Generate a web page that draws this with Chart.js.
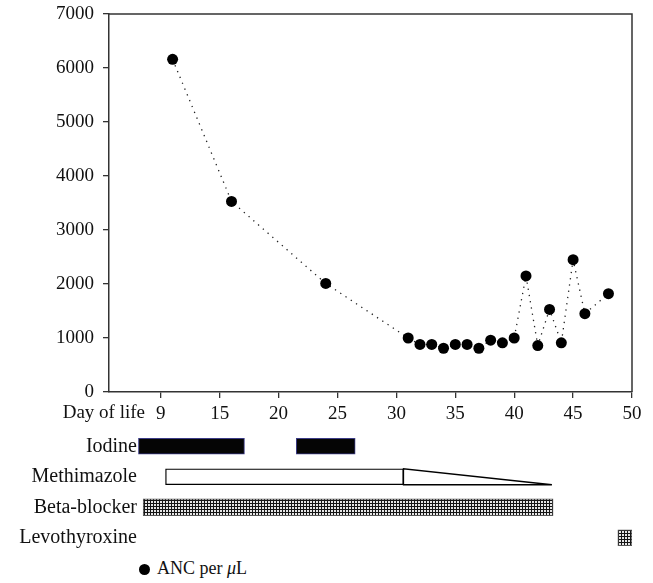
<!DOCTYPE html>
<html>
<head>
<meta charset="utf-8">
<script src="https://cdn.jsdelivr.net/npm/chart.js@4"></script>
<style>
    body { margin: 0; background: #fff; }
    #wrap { position: relative; width: 653px; height: 583px; }
    #top { position: absolute; left: 0; top: 0; }
    #bottom { position: absolute; left: 0; top: 431px; }
    #legend { position: absolute; left: 139px; top: 557px; font: 18px "Liberation Serif", serif; color: #111; line-height: 22px; }
    #legend .dot { display: inline-block; width: 11px; height: 11px; border-radius: 50%; background: #000; margin-right: 7px; vertical-align: -1px; }
</style>
</head>
<body>
<div id="wrap">
    <canvas id="top" width="653" height="430"></canvas>
    <canvas id="bottom" width="653" height="122"></canvas>
    <div id="legend"></div>
</div>
<script>
// ANC per microlitre by day of life
const days = [11, 16, 24, 31, 32, 33, 34, 35, 36, 37, 38, 39, 40, 41, 42, 43, 44, 45, 46, 48];
const anc = [6160, 3530, 2010, 1000, 880, 880, 810, 880, 880, 810, 960, 910, 1000, 2150, 860, 1530, 910, 2450, 1450, 1820];

const xMin = 5.6;
const xMax = 50;
const xTickValues = [10, 15, 20, 25, 30, 35, 40, 45, 50];
const xTickLabels = ["9", "15", "20", "25", "30", "35", "40", "45", "50"];
const yMax = 7000;
const yStep = 1000;

// treatment courses, in days of life
const treatments = ["Iodine", "Methimazole", "Beta-blocker", "Levothyroxine"];
const iodineCourses = [[8.1, 17.1], [21.5, 26.5]];
const methimazoleFull = [10.4, 30.6];
const methimazoleTaper = [30.6, 43.2];
const betaBlocker = [8.5, 43.3];
const levothyroxine = [48.8, 50.0];

const FONT = {family: "'Liberation Serif', serif", size: 19};
const LABEL_FONT = "20px 'Liberation Serif', serif";
const INK = "#111";

function l(element) {
    return document.getElementById(element);
}

function meshPattern() {
    let c = document.createElement("canvas");
    c.width = 3;
    c.height = 3;
    let g = c.getContext("2d");
    g.fillStyle = "#e6e6e6";
    g.fillRect(0, 0, 3, 3);
    g.fillStyle = "#151515";
    g.fillRect(0, 0, 3, 1);
    g.fillRect(0, 0, 1, 3);
    return l("bottom").getContext("2d").createPattern(c, "repeat");
}

const framePlugin = {
    id: "frame",
    afterDraw(chart) {
        let ctx = chart.ctx;
        let a = chart.chartArea;
        ctx.save();
        ctx.strokeStyle = "#333";
        ctx.lineWidth = 1.5;
        ctx.beginPath();
        ctx.moveTo(a.left, a.top);
        ctx.lineTo(a.right, a.top);
        ctx.lineTo(a.right, a.bottom);
        ctx.stroke();
        ctx.fillStyle = INK;
        ctx.font = FONT.size + "px " + FONT.family;
        ctx.textAlign = "right";
        ctx.textBaseline = "middle";
        ctx.fillText("Day of life", 145, a.bottom + 21);
        ctx.restore();
    }
};

new Chart(l("top"), {
    type: "line",
    data: {
        datasets: [{
            label: "ANC per \u03bcL",
            data: days.map((d, i) => ({x: d, y: anc[i]})),
            borderColor: "#222",
            borderWidth: 1.3,
            borderDash: [1.3, 5],
            pointRadius: 5.5,
            pointBackgroundColor: "#000",
            pointBorderWidth: 0,
            tension: 0
        }]
    },
    options: {
        responsive: false,
        animation: false,
        layout: {padding: {top: 14, right: 21, bottom: 0, left: 0}},
        plugins: {legend: {display: false}, tooltip: {enabled: false}},
        scales: {
            x: {
                type: "linear",
                min: xMin,
                max: xMax,
                afterBuildTicks: s => { s.ticks = xTickValues.map(v => ({value: v})); },
                afterFit: s => { s.height = 38; },
                ticks: {callback: (v, i) => xTickLabels[i], font: FONT, color: INK, padding: 5, maxRotation: 0, autoSkip: false},
                grid: {drawOnChartArea: false, tickLength: 6, color: "#333", lineWidth: 1.3},
                border: {color: "#333", width: 1.5}
            },
            y: {
                min: 0,
                max: yMax,
                afterFit: s => { s.width = 109; s.paddingTop = 0; s.paddingBottom = 0; },
                ticks: {stepSize: yStep, callback: v => String(v), font: FONT, color: INK, padding: 9},
                grid: {drawOnChartArea: false, tickLength: 6, color: "#333", lineWidth: 1.3},
                border: {color: "#333", width: 1.5}
            }
        }
    },
    plugins: [framePlugin]
});

const taperPlugin = {
    id: "taper",
    afterDatasetsDraw(chart) {
        let meta = chart.getDatasetMeta(2);
        let ctx = chart.ctx;
        ctx.save();
        ctx.strokeStyle = "#000";
        ctx.lineWidth = 1.3;
        for (let el of meta.data) {
            let x0 = Math.min(el.base, el.x);
            let x1 = Math.max(el.base, el.x);
            let top = el.y - el.height / 2;
            let bot = el.y + el.height / 2;
            ctx.beginPath();
            ctx.moveTo(x0, bot);
            ctx.lineTo(x0, top);
            ctx.lineTo(x1, bot);
            ctx.closePath();
            ctx.stroke();
        }
        // row names, right-aligned just left of the bars
        let y = chart.scales.y;
        ctx.fillStyle = INK;
        ctx.font = LABEL_FONT;
        ctx.textAlign = "right";
        ctx.textBaseline = "middle";
        treatments.forEach((name, i) => {
            ctx.fillText(name, 137, y.getPixelForValue(i));
        });
        ctx.restore();
    }
};

let mesh = meshPattern();

new Chart(l("bottom"), {
    type: "bar",
    data: {
        labels: treatments,
        datasets: [
            {
                data: iodineCourses.map(c => ({y: "Iodine", x: c})),
                backgroundColor: "#050505",
                borderColor: "#3b3b86",
                borderWidth: 1
            },
            {
                data: [{y: "Methimazole", x: methimazoleFull}],
                backgroundColor: "#fff",
                borderColor: "#000",
                borderWidth: 1.3
            },
            {
                data: [{y: "Methimazole", x: methimazoleTaper}],
                backgroundColor: "rgba(0,0,0,0)",
                borderWidth: 0
            },
            {
                data: [{y: "Beta-blocker", x: betaBlocker}],
                backgroundColor: mesh,
                borderColor: "#555",
                borderWidth: 1,
                barThickness: 17
            },
            {
                data: [{y: "Levothyroxine", x: levothyroxine}],
                backgroundColor: mesh,
                borderColor: "#555",
                borderWidth: 1
            }
        ]
    },
    options: {
        responsive: false,
        animation: false,
        indexAxis: "y",
        layout: {padding: {top: 0, right: 21, bottom: 0, left: 109}},
        datasets: {bar: {grouped: false, barThickness: 16, borderSkipped: false}},
        plugins: {legend: {display: false}, tooltip: {enabled: false}},
        scales: {
            x: {type: "linear", min: xMin, max: xMax, display: false},
            y: {type: "category", offset: true, display: false}
        }
    },
    plugins: [taperPlugin]
});

l("legend").innerHTML = '<span class="dot"></span>ANC per <i>\u03bc</i>L';
</script>
</body>
</html>
